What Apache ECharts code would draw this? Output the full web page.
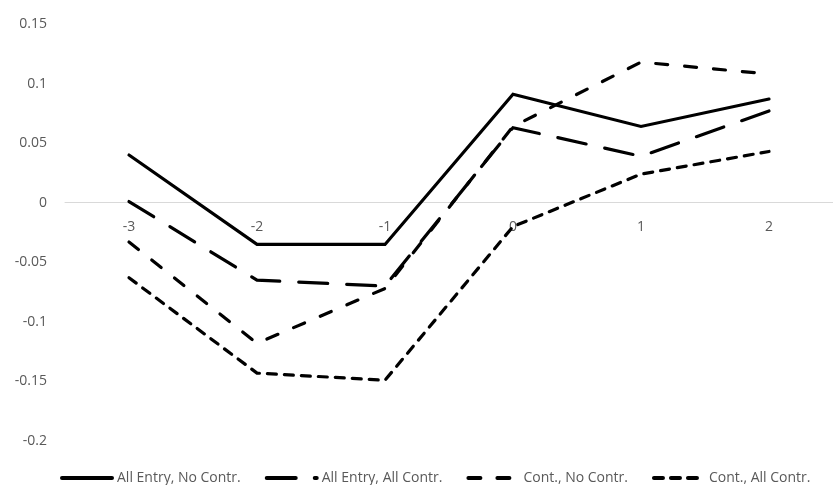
<!DOCTYPE html>
<html>
<head>
<meta charset="utf-8">
<script src="https://cdn.jsdelivr.net/npm/echarts@6/dist/echarts.min.js"></script>
<style>
html,body{margin:0;padding:0;background:#fff;}
#chart{width:833px;height:485px;}
</style>
</head>
<body>
<div id="chart"></div>
<script>
var categories = ['-3', '-2', '-1', '0', '1', '2'];
var seriesNames = ['All Entry, No Contr.', 'All Entry, All Contr.', 'Cont., No Contr.', 'Cont., All Contr.'];
var allEntryNoContr = [0.040, -0.035, -0.035, 0.091, 0.064, 0.087];
var allEntryAllContr = [0.001, -0.065, -0.070, 0.063, 0.039, 0.077];
var contNoContr = [-0.033, -0.118, -0.072, 0.064, 0.118, 0.108];
var contAllContr = [-0.063, -0.143, -0.149, -0.020, 0.024, 0.043];
var yMin = -0.2, yMax = 0.15, yStep = 0.05;

var FONT = '"Open Sans", Lato, sans-serif';
var TXT = '#595959';
var dashes = ['solid', [29, 19], [12, 17], [9, 8]];
var values = [allEntryNoContr, allEntryAllContr, contNoContr, contAllContr];

var chart = echarts.init(document.getElementById('chart'), null, {renderer: 'canvas'});
chart.setOption({
  animation: false,
  grid: {left: 65, right: -12, top: 24, bottom: 44, containLabel: false},
  legend: {
    left: 60, top: 471, padding: 0, itemGap: 24,
    itemWidth: 50, itemHeight: 14,
    itemStyle: {opacity: 0},
    lineStyle: {width: 4},
    textStyle: {color: TXT, fontSize: 14, fontFamily: FONT},
    data: seriesNames
  },
  xAxis: {
    type: 'category', data: categories, boundaryGap: true,
    axisLine: {onZero: true, lineStyle: {color: '#d9d9d9', width: 1}},
    axisTick: {show: false},
    axisLabel: {color: TXT, fontSize: 14, fontFamily: FONT, margin: -221},
    splitLine: {show: false}
  },
  yAxis: {
    type: 'value', min: yMin, max: yMax, interval: yStep,
    axisLine: {show: false}, axisTick: {show: false},
    splitLine: {show: false},
    axisLabel: {
      color: TXT, fontSize: 14, fontFamily: FONT, margin: 18,
      formatter: function (v) { return String(Number(v.toFixed(2))); }
    }
  },
  series: seriesNames.map(function (name, i) {
    return {
      name: name, type: 'line', data: values[i],
      symbol: 'none', showSymbol: false,
      lineStyle: {color: '#000', width: 3.2, type: dashes[i], cap: 'round', join: 'miter'},
      itemStyle: {color: '#000'},
      z: 10 - i
    };
  })
});
</script>
</body>
</html>
